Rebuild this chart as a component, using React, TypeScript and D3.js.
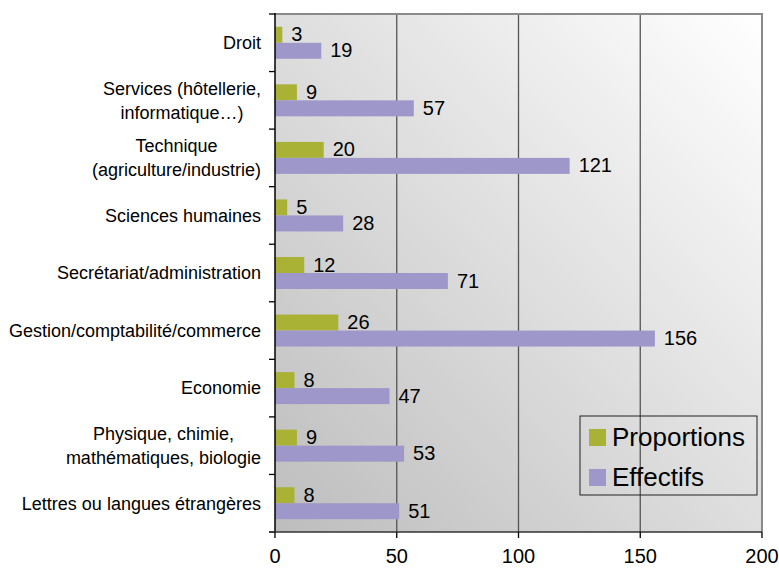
import React, { useEffect, useRef } from "react";
import * as d3 from "d3";

const categories: string[][] = [
  ["Droit"],
  ["Services (hôtellerie,", "informatique…)"],
  ["Technique", "(agriculture/industrie)"],
  ["Sciences humaines"],
  ["Secrétariat/administration"],
  ["Gestion/comptabilité/commerce"],
  ["Economie"],
  ["Physique, chimie,", "mathématiques, biologie"],
  ["Lettres ou langues étrangères"],
];
const proportions: number[] = [3, 9, 20, 5, 12, 26, 8, 9, 8];
const effectifs: number[] = [19, 57, 121, 28, 71, 156, 47, 53, 51];
const xTicks: number[] = [0, 50, 100, 150, 200];
const seriesNames: string[] = ["Proportions", "Effectifs"];
const seriesColors: string[] = ["#aab236", "#9e97ca"];

const W = 779;
const H = 571;
const FONT = "'Liberation Sans', Arial, Helvetica, sans-serif";

export default function App() {
  const ref = useRef<SVGSVGElement | null>(null);

  useEffect(() => {
    const svg = d3.select(ref.current);
    svg.selectAll("*").remove();

    const left = 275, right = 762, top = 14, bottom = 532;
    const x = d3.scaleLinear().domain([0, 200]).range([left, right]);
    const y = d3
      .scaleBand<number>()
      .domain(categories.map((_, i) => i))
      .range([top, bottom]);
    const bh = 16;

    const defs = svg.append("defs");
    const grad = defs
      .append("linearGradient")
      .attr("id", "bg")
      .attr("x1", "0%")
      .attr("y1", "100%")
      .attr("x2", "100%")
      .attr("y2", "0%");
    grad.append("stop").attr("offset", "0%").attr("stop-color", "#bdbdbd");
    grad.append("stop").attr("offset", "100%").attr("stop-color", "#ffffff");

    svg
      .append("rect")
      .attr("x", left)
      .attr("y", top)
      .attr("width", right - left)
      .attr("height", bottom - top)
      .attr("fill", "url(#bg)");

    // grid lines
    svg
      .append("g")
      .selectAll("line")
      .data(xTicks.slice(1, -1))
      .join("line")
      .attr("x1", (d) => x(d))
      .attr("x2", (d) => x(d))
      .attr("y1", top)
      .attr("y2", bottom)
      .attr("stroke", "#555")
      .attr("stroke-width", 1.3);

    // top and right border
    svg
      .append("path")
      .attr("d", `M${left},${top}H${right}V${bottom}`)
      .attr("fill", "none")
      .attr("stroke", "#8a8a8a")
      .attr("stroke-width", 2);

    // bars
    const g = svg.append("g");
    categories.forEach((_, i) => {
      const c = (y(i) as number) + y.bandwidth() / 2;
      const vals = [proportions[i], effectifs[i]];
      vals.forEach((v, s) => {
        const by = c - bh + s * bh;
        g.append("rect")
          .attr("x", x(0))
          .attr("y", by)
          .attr("width", x(v) - x(0))
          .attr("height", bh)
          .attr("fill", seriesColors[s]);
        g.append("text")
          .attr("x", x(v) + 9)
          .attr("y", by + bh - 1.5)
          .attr("font-family", FONT)
          .attr("font-size", 20)
          .attr("fill", "#000")
          .text(String(v));
      });
    });

    // left axis
    svg
      .append("line")
      .attr("x1", left)
      .attr("x2", left)
      .attr("y1", top - 1)
      .attr("y2", bottom)
      .attr("stroke", "#000")
      .attr("stroke-width", 1.5);
    const bounds = categories.map((_, i) => y(i) as number).concat([bottom]);
    svg
      .append("g")
      .selectAll("line")
      .data(bounds)
      .join("line")
      .attr("x1", left - 6)
      .attr("x2", left)
      .attr("y1", (d) => d)
      .attr("y2", (d) => d)
      .attr("stroke", "#000")
      .attr("stroke-width", 1.3);

    // bottom axis
    svg
      .append("line")
      .attr("x1", left - 6)
      .attr("x2", right)
      .attr("y1", bottom)
      .attr("y2", bottom)
      .attr("stroke", "#333")
      .attr("stroke-width", 1.5);
    svg
      .append("g")
      .selectAll("line")
      .data(xTicks)
      .join("line")
      .attr("x1", (d) => x(d))
      .attr("x2", (d) => x(d))
      .attr("y1", bottom)
      .attr("y2", bottom + 6)
      .attr("stroke", "#000")
      .attr("stroke-width", 1.3);
    svg
      .append("g")
      .selectAll("text")
      .data(xTicks)
      .join("text")
      .attr("x", (d) => x(d))
      .attr("y", 563)
      .attr("text-anchor", "middle")
      .attr("font-family", FONT)
      .attr("font-size", 20)
      .attr("fill", "#000")
      .text((d) => String(d));

    // category labels
    const labelRight = 261;
    const fs = 18;
    const lineGap = 24;
    categories.forEach((lines, i) => {
      const c = (y(i) as number) + y.bandwidth() / 2;
      const texts = lines.map((ln, k) => {
        const cy = c + (k - (lines.length - 1) / 2) * lineGap;
        return svg
          .append("text")
          .attr("y", cy + fs * 0.35)
          .attr("font-family", FONT)
          .attr("font-size", fs)
          .attr("fill", "#000")
          .attr("text-anchor", "middle")
          .text(ln);
      });
      const widths = texts.map((t) => (t.node() as SVGTextElement).getComputedTextLength());
      const maxW = Math.max(...widths);
      texts.forEach((t) => t.attr("x", labelRight - maxW / 2));
    });

    // legend
    const lg = svg.append("g");
    lg.append("rect")
      .attr("x", 580)
      .attr("y", 416)
      .attr("width", 177)
      .attr("height", 79)
      .attr("fill", "none")
      .attr("stroke", "#222")
      .attr("stroke-width", 1);
    seriesNames.forEach((name, s) => {
      const yy = 429 + s * 40;
      lg.append("rect")
        .attr("x", 589)
        .attr("y", yy)
        .attr("width", 17)
        .attr("height", 17)
        .attr("fill", seriesColors[s]);
      lg.append("text")
        .attr("x", 612)
        .attr("y", yy + 17)
        .attr("font-family", FONT)
        .attr("font-size", 26)
        .attr("fill", "#000")
        .text(name);
    });
  }, []);

  return (
    <svg
      ref={ref}
      width={W}
      height={H}
      style={{ position: "absolute", left: 0, top: 0, background: "#fff" }}
    />
  );
}
